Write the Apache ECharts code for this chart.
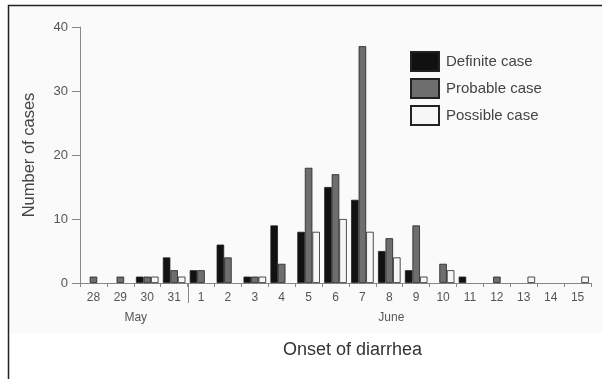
<!DOCTYPE html>
<html>
<head>
<meta charset="utf-8">
<script src="https://cdn.jsdelivr.net/npm/echarts@6/dist/echarts.min.js"></script>
<style>html,body{margin:0;padding:0;background:#fff}#c{width:602px;height:379px}</style>
</head>
<body>
<div id="c"></div>
<script>
var days = ['28','29','30','31','1','2','3','4','5','6','7','8','9','10','11','12','13','14','15'];
var definite = [0,0,1,4,2,6,1,9,8,15,13,5,2,0,1,0,0,0,0];
var probable = [1,1,1,2,2,4,1,3,18,17,37,7,9,3,0,1,0,0,0];
var possible = [0,0,1,1,0,0,1,0,8,10,8,4,1,2,0,0,1,0,1];
var months = [{name:'May', from:'28', to:'31'}, {name:'June', from:'1', to:'15'}];
var yTicks = [0,10,20,30,40];

var FONT = '"Liberation Sans", Arial, sans-serif';
var chart = echarts.init(document.getElementById('c'), null, {renderer:'canvas'});
function nz(a){ return a.map(function(v){ return v === 0 ? '-' : v; }); }
function mk(name, arr, color){
  return {name:name, type:'bar', data:nz(arr), barGap:'0%', barCategoryGap:'16%',
    itemStyle:{color:color, borderColor:'#222', borderWidth:0.8}};
}
chart.setOption({
  animation:false,
  textStyle:{fontFamily:FONT},
  grid:{left:80, right:11, top:27, bottom:96},
  legend:{orient:'vertical', left:405, top:46, itemWidth:28, itemHeight:19, itemGap:6,
    icon:'rect', textStyle:{fontSize:15, color:'#444', fontFamily:FONT, padding:[0,0,0,2]},
    data:['Definite case','Probable case','Possible case']},
  xAxis:{type:'category', data:days,
    axisLine:{lineStyle:{color:'#888', width:1}},
    axisTick:{show:true, length:4, lineStyle:{color:'#888'}},
    axisLabel:{fontSize:12, color:'#555', margin:9, fontFamily:FONT},
    name:'Onset of diarrhea', nameLocation:'middle', nameGap:58,
    nameTextStyle:{fontSize:18, color:'#333', fontFamily:FONT, padding:[0,0,0,34]}},
  yAxis:{type:'value', min:yTicks[0], max:yTicks[yTicks.length-1], interval:10,
    splitLine:{show:false},
    axisLine:{show:true, lineStyle:{color:'#888'}},
    axisTick:{show:true, length:8, lineStyle:{color:'#888'}},
    axisLabel:{fontSize:13, color:'#555', margin:12, fontFamily:FONT},
    name:'Number of cases', nameLocation:'middle', nameGap:42, nameRotate:90,
    nameTextStyle:{fontSize:16.5, color:'#444', fontFamily:FONT}},
  series:[mk('Definite case', definite, '#111'), mk('Probable case', probable, '#6e6e6e'), mk('Possible case', possible, '#f6f6f6')]
});

// month labels and separator derived from axis scale
var g = [
  {type:'rect', z:-10, silent:true, shape:{x:8, y:5, width:600, height:328}, style:{fill:'#fafafa'}},
  {type:'polyline', z:100, silent:true, shape:{points:[[8.5,379],[8.5,5.5],[602,5.5]]}, style:{stroke:'#222', lineWidth:1.5, fill:null}}
];
var y0 = chart.convertToPixel({yAxisIndex:0}, 0);
months.forEach(function(m, i){
  var a = chart.convertToPixel({xAxisIndex:0}, m.from);
  var b = chart.convertToPixel({xAxisIndex:0}, m.to);
  var cx = (a + b) / 2 + 2;
  g.push({type:'text', silent:true, x:cx, y:y0 + 35, style:{text:m.name, font:'12px ' + FONT, fill:'#555', align:'center', verticalAlign:'middle'}});
  if (i > 0) {
    var prev = chart.convertToPixel({xAxisIndex:0}, months[i-1].to);
    var sx = Math.round((prev + a) / 2) + 0.5;
    g.push({type:'line', silent:true, shape:{x1:sx, y1:y0, x2:sx, y2:y0 + 20}, style:{stroke:'#888', lineWidth:1}});
  }
});
chart.setOption({graphic:g});
</script>
</body>
</html>
